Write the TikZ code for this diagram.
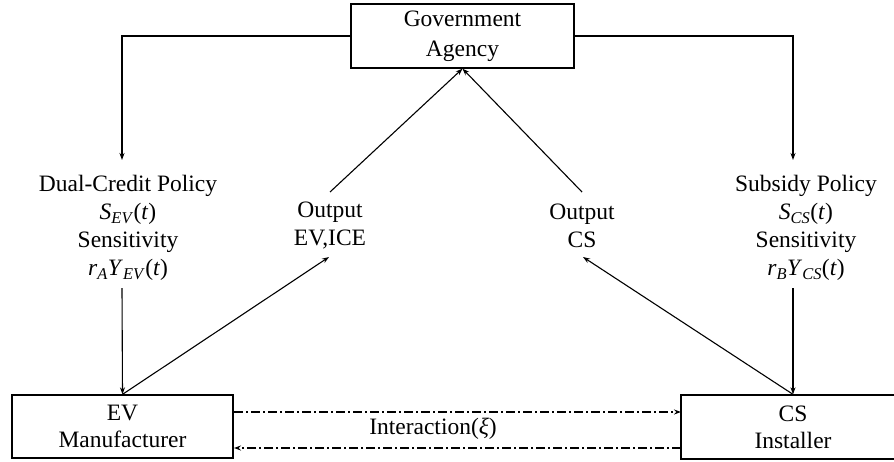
\documentclass[tikz,border=0pt]{standalone}
\usepackage{fontspec}
\setmainfont{Liberation Serif}
\usetikzlibrary{arrows.meta}
\newcommand{\vi}[1]{\textit{#1}}
\newcommand{\vsub}[2]{\textit{#1}\textsubscript{\textit{#2}}}
\begin{document}
\begin{tikzpicture}[x=1pt,y=-1pt,
  every node/.style={font=\fontsize{23.5}{28}\selectfont},
  box/.style={draw,line width=1.3pt,align=center,inner sep=0pt},
  label/.style={align=center,inner sep=0pt},
  conn/.style={line width=1.1pt,-{Stealth[length=7pt,width=5pt]}},
  inter/.style={line width=1.1pt,dash pattern=on 9pt off 3pt on 2pt off 3pt,-{Stealth[length=7pt,width=5pt]}}]
\useasboundingbox (0,0) rectangle (894,461);

% actors
\node[box,minimum width=223pt,minimum height=64pt,font=\fontsize{23.5}{30}\selectfont] (gov) at (462.5,36) {Government\\Agency};
\node[box,minimum width=221pt,minimum height=63pt,font=\fontsize{23.5}{27}\selectfont] (ev) at (122.5,426.5) {EV\\Manufacturer};
\node[box,minimum width=224pt,minimum height=64pt,font=\fontsize{23.5}{27}\selectfont] (cs) at (793,427) {CS\\Installer};

% policy and output labels
\node[label] (dual) at (128,228) {Dual-Credit Policy\\\vsub{S}{EV}(\vi{t})\\Sensitivity\\\vi{r}\textsubscript{\vi{A}}\vsub{Y}{EV}(\vi{t})};
\node[label] (subs) at (806,228) {Subsidy Policy\\\vsub{S}{CS}(\vi{t})\\Sensitivity\\\vi{r}\textsubscript{\vi{B}}\vsub{Y}{CS}(\vi{t})};
\node[label] (outev) at (330,226) {Output\\EV,ICE};
\node[label] (outcs) at (582,226) {Output\\CS};

% connector end points
\coordinate (dualtop) at (122,160);
\coordinate (substop) at (793,160);
\coordinate (dualbot) at (122,288);
\coordinate (subsbot) at (793,288);
\coordinate (outevtop) at (330,192);
\coordinate (outevbot) at (329,257);
\coordinate (outcstop) at (582,192);
\coordinate (outcsbot) at (583,257);
\coordinate (evr1) at (234,412);
\coordinate (evr2) at (234,448);
\coordinate (csl1) at (681,412);
\coordinate (csl2) at (681,448);

% government to policies
\draw[conn] (gov.west) -| (dualtop);
\draw[conn] (gov.east) -| (substop);
% policies to firms
\draw[conn] (dualbot) -- (ev.north);
\draw[conn] (subsbot) -- (cs.north);
% outputs
\draw[conn] (ev.north) -- (outevbot);
\draw[conn] (cs.north) -- (outcsbot);
\draw[conn] (outevtop) -- (gov.south);
\draw[conn] (outcstop) -- (gov.south);
% interaction
\draw[inter] (evr1) -- (csl1);
\draw[inter] (csl2) -- (evr2);
\node (inter) at (433,429) {Interaction(\vi{ξ})};
\end{tikzpicture}
\end{document}
